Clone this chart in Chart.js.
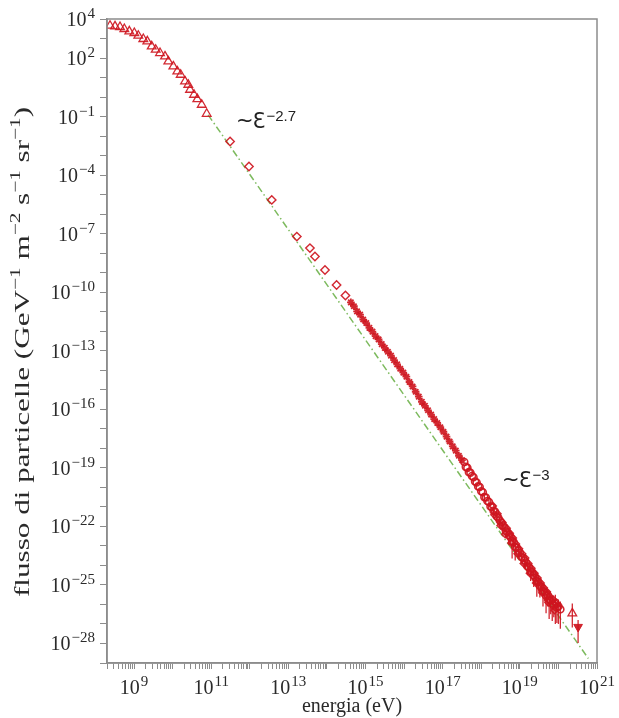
<!DOCTYPE html>
<html>
<head>
<meta charset="utf-8">
<script src="https://cdn.jsdelivr.net/npm/chart.js@4.4.1/dist/chart.umd.min.js"></script>
<style>
html, body { margin: 0; padding: 0; background: #fff; }
</style>
</head>
<body>
<canvas id="grafico" width="619" height="718"></canvas>
<script>
// valori, in esponenti: log10(energia eV), log10(flusso)
const energiaTri = [8.378, 8.508, 8.637, 8.749, 8.878, 9.008, 9.111, 9.241, 9.345, 9.459, 9.562, 9.674,
    9.803, 9.889, 10.019, 10.122, 10.210, 10.322, 10.407, 10.452, 10.555, 10.641, 10.755, 10.884];
const flussoTri = [3.656, 3.621, 3.590, 3.487, 3.364, 3.282, 3.144, 2.974, 2.851, 2.595, 2.426, 2.256,
    2.082, 1.826, 1.569, 1.313, 1.144, 0.800, 0.631, 0.374, 0.118, -0.103, -0.395, -0.857];

const energiaRombi = [11.49, 11.98, 12.57, 13.22, 13.56, 13.69, 13.95, 14.25, 14.48];
const flussoRombi = [-2.28, -3.56, -5.27, -7.15, -7.74, -8.17, -8.86, -9.63, -10.17];

const energiaStelle = [14.62, 14.70, 14.78, 14.86, 14.94, 15.02, 15.10, 15.18, 15.26, 15.34, 15.42, 15.50,
    15.58, 15.66, 15.74, 15.82, 15.90, 15.98, 16.06, 16.14, 16.22, 16.30, 16.38, 16.46, 16.54, 16.62,
    16.70, 16.78, 16.86, 16.94, 17.02, 17.10, 17.18, 17.26, 17.34, 17.42, 17.50];
const flussoStelle = [-10.52, -10.72, -10.98, -11.15, -11.40, -11.58, -11.83, -12.02, -12.25, -12.42, -12.66, -12.85,
    -13.05, -13.25, -13.48, -13.70, -13.92, -14.12, -14.33, -14.60, -14.83, -15.10, -15.35, -15.62, -15.82, -16.05,
    -16.27, -16.50, -16.70, -16.92, -17.15, -17.40, -17.65, -17.90, -18.12, -18.38, -18.60];

const energiaAlta = [17.56, 17.60, 17.64, 17.68, 17.72, 17.76, 17.80, 17.84, 17.88, 17.92, 17.96, 18.00,
    18.04, 18.08, 18.12, 18.16, 18.20, 18.24, 18.28, 18.32, 18.36, 18.40, 18.44, 18.48, 18.52, 18.56,
    18.60, 18.64, 18.68, 18.72, 18.76, 18.80, 18.84, 18.88, 18.92, 18.96, 19.00, 19.04, 19.08, 19.12,
    19.16, 19.20, 19.24, 19.28, 19.32, 19.36, 19.40, 19.44, 19.48, 19.52, 19.56, 19.60, 19.64, 19.68,
    19.72, 19.76, 19.80, 19.84, 19.88, 19.92, 19.96, 20.00, 20.05];
const flussoAlta = [-18.70, -18.95, -19.00, -19.22, -19.25, -19.42, -19.48, -19.70, -19.75, -19.95, -19.98, -20.20,
    -20.25, -20.50, -20.52, -20.70, -20.75, -20.98, -21.02, -21.20, -21.25, -21.48, -21.55, -21.70, -21.80, -21.95,
    -22.05, -22.25, -22.30, -22.45, -22.55, -22.75, -22.80, -23.05, -23.10, -23.25, -23.35, -23.55, -23.62, -23.75,
    -23.85, -24.05, -24.10, -24.30, -24.35, -24.50, -24.62, -24.80, -24.85, -25.05, -25.10, -25.30, -25.35, -25.55,
    -25.50, -25.75, -25.80, -25.95, -26.05, -25.90, -26.15, -26.10, -26.25];
const erroreGiu = [0, 0, 0, 0, 0, 0, 0, 0, 0, 0, 0, 0,
    0, 0.15, 0, 0, 0.15, 0, 0, 0.2, 0, 0.2, 0, 0.25, 0, 0.3,
    0, 0.3, 0, 0.5, 0, 0.9, 0.3, 0.7, 0, 0.4, 0, 0.35, 0, 0.4,
    0, 0.45, 0.3, 0.5, 0, 0.6, 0.4, 0.8, 0.5, 0.6, 0.4, 0.8, 0.5, 0.9,
    0.6, 1.0, 0.7, 0.9, 0.6, 1.1, 0.8, 0.9, 1.0];
const erroreSu = [0, 0, 0, 0, 0, 0, 0, 0, 0, 0, 0, 0,
    0, 0.1, 0, 0, 0.1, 0, 0, 0.1, 0, 0.1, 0, 0.15, 0, 0.15,
    0, 0.15, 0, 0.2, 0, 0.25, 0.15, 0.2, 0, 0.2, 0, 0.2, 0, 0.2,
    0, 0.2, 0.15, 0.2, 0, 0.25, 0.2, 0.3, 0.2, 0.25, 0.2, 0.3, 0.25, 0.3,
    0.25, 0.35, 0.3, 0.35, 0.3, 0.4, 0.3, 0.35, 0.4];

// bordi superiore e inferiore della banda densa
const energiaBanda = [18.30, 18.42, 18.55, 18.66, 18.74, 18.82, 18.90, 18.98, 19.06, 19.14, 19.22, 19.30,
    19.38, 19.46, 19.54, 19.62, 19.70, 19.78, 19.86, 19.94,
    18.34, 18.50, 18.62, 18.78, 18.94, 19.10, 19.26, 19.42, 19.58, 19.74, 19.90];
const flussoBanda = [-20.95, -21.35, -21.80, -22.10, -22.35, -22.60, -22.90, -23.15, -23.40, -23.62, -23.90, -24.15,
    -24.40, -24.65, -24.90, -25.15, -25.35, -25.60, -25.75, -25.95,
    -21.40, -21.95, -22.40, -22.85, -23.40, -23.90, -24.40, -24.90, -25.40, -25.90, -26.30];

// ultimi due punti isolati
const energiaCoda = [20.36];
const flussoCoda = [-26.46];
const codaGiu = [0.72];
const codaSu = [0.51];
const energiaLimite = [20.51];
const flussoLimite = [-27.15];
const limiteGiu = [0.83];
const limiteSu = [0.35];

// retta ~E^-2.7 (estremi)
const energiaRetta = [10.92, 20.775];
const flussoRetta = [-0.91, -28.77];

// etichette degli assi (esponenti)
const etichetteX = [9, 11, 13, 15, 17, 19, 21];
const etichetteY = [4, 2, -1, -4, -7, -10, -13, -16, -19, -22, -25, -28];

// annotazioni
const note = [
    { x: 11.67, y: -1.57, esp: '\u22122.7' },
    { x: 18.565, y: -19.98, esp: '\u22123' }
];

const rosso = 'rgba(206, 22, 32, 0.92)';
const serif = '"Liberation Serif", "DejaVu Serif", serif';

function punti(xs, ys) {
    return xs.map((v, i) => ({ x: v, y: ys[i] }));
}

// tacche: minori in x (2..9), una per decade in y
let tackX = [];
for (let n = 8; n <= 20; n++) {
    for (let k = 1; k <= 9; k++) {
        let v = n + Math.log10(k);
        if (v >= 8.3 && v <= 21) tackX.push(v);
    }
}
tackX.push(21);
let tackY = [];
for (let n = -29; n <= 4; n++) tackY.push(n);

function scriviPotenza(ctx, x, y, esp, allinea) {
    let s = esp < 0 ? '\u2212' + Math.abs(esp) : String(esp);
    ctx.font = '20px ' + serif;
    let w1 = ctx.measureText('10').width;
    ctx.font = '15px ' + serif;
    let w2 = ctx.measureText(s).width;
    let tot = w1 + 1 + w2;
    let x0 = allinea === 'center' ? x - tot / 2 : x - tot;
    ctx.font = '20px ' + serif;
    ctx.fillText('10', x0, y);
    ctx.font = '15px ' + serif;
    ctx.fillText(s, x0 + w1 + 1, y - 8);
}

const barre = {
    id: 'barre',
    afterDatasetsDraw(chart) {
        const { ctx } = chart;
        const sx = chart.scales.x, sy = chart.scales.y;
        ctx.save();
        ctx.strokeStyle = rosso;
        ctx.lineWidth = 1.3;
        chart.data.datasets.forEach(ds => {
            if (!ds.errGiu) return;
            ds.data.forEach((p, i) => {
                let dn = ds.errGiu[i], up = ds.errSu[i];
                if (!dn && !up) return;
                let px = sx.getPixelForValue(p.x);
                ctx.beginPath();
                ctx.moveTo(px, sy.getPixelForValue(p.y + up));
                ctx.lineTo(px, sy.getPixelForValue(p.y - dn));
                ctx.stroke();
            });
        });
        ctx.restore();
    }
};

const testi = {
    id: 'testi',
    afterDraw(chart) {
        const { ctx, chartArea } = chart;
        const sx = chart.scales.x, sy = chart.scales.y;
        ctx.save();

        // cornice
        ctx.strokeStyle = '#8c8c8c';
        ctx.lineWidth = 1.5;
        ctx.strokeRect(chartArea.left, chartArea.top, chartArea.right - chartArea.left, chartArea.bottom - chartArea.top);

        ctx.fillStyle = '#2a2a2a';
        ctx.textBaseline = 'alphabetic';
        ctx.textAlign = 'left';
        etichetteX.forEach(e => scriviPotenza(ctx, sx.getPixelForValue(e), 694, e, 'center'));
        etichetteY.forEach(e => scriviPotenza(ctx, 95, sy.getPixelForValue(e) + 7, e, 'right'));

        // titolo asse x
        ctx.font = '20px ' + serif;
        ctx.textAlign = 'center';
        ctx.fillText('energia (eV)', (chartArea.left + chartArea.right) / 2, 712);

        // titolo asse y con apici, allungato come nell'originale
        let pezzi = [['flusso di particelle (GeV', 0], ['\u22121', 1], [' m', 0], ['\u22122', 1],
            [' s', 0], ['\u22121', 1], [' sr', 0], ['\u22121', 1], [')', 0]];
        let big = '22px ' + serif, small = '15px ' + serif;
        let tot = 0;
        pezzi.forEach(p => { ctx.font = p[1] ? small : big; tot += ctx.measureText(p[0]).width; });
        ctx.translate(29, 352);
        ctx.rotate(-Math.PI / 2);
        ctx.scale(490 / tot, 1);
        ctx.textAlign = 'left';
        let cx = -tot / 2;
        pezzi.forEach(p => {
            ctx.font = p[1] ? small : big;
            ctx.fillText(p[0], cx, p[1] ? -9 : 0);
            cx += ctx.measureText(p[0]).width;
        });
        ctx.restore();

        // annotazioni ~E^-n
        ctx.save();
        ctx.fillStyle = '#222';
        ctx.textAlign = 'left';
        note.forEach(n => {
            let px = sx.getPixelForValue(n.x), py = sy.getPixelForValue(n.y);
            ctx.font = '21px "DejaVu Sans"';
            ctx.fillText('~', px - 1, py - 1);
            let w = ctx.measureText('~').width;
            ctx.font = '21px "DejaVu Sans"';
            ctx.fillText('\u0190', px + w - 2, py);
            let w2 = ctx.measureText('\u0190').width;
            ctx.font = '15px "Liberation Sans", sans-serif';
            ctx.fillText(n.esp, px + w - 2 + w2 + 1, py - 7);
        });
        ctx.restore();
    }
};

let chart = new Chart(document.getElementById('grafico'), {
    type: 'scatter',
    data: {
        datasets: [
            {
                data: punti(energiaTri, flussoTri),
                pointStyle: 'triangle', pointRadius: 5, borderWidth: 1.3,
                borderColor: rosso, backgroundColor: 'rgba(255,255,255,0)'
            },
            {
                data: punti(energiaRombi, flussoRombi),
                pointStyle: 'rectRot', pointRadius: 4.2, borderWidth: 1.4,
                borderColor: rosso, backgroundColor: 'rgba(255,255,255,0)'
            },
            {
                data: punti(energiaStelle, flussoStelle),
                pointStyle: 'star', pointRadius: 3.8, borderWidth: 1.8,
                borderColor: rosso, backgroundColor: rosso
            },
            {
                data: punti(energiaAlta, flussoAlta),
                errGiu: erroreGiu, errSu: erroreSu,
                pointStyle: 'circle', pointRadius: 3.5, borderWidth: 1.6,
                borderColor: rosso, backgroundColor: 'rgba(255,255,255,0)'
            },
            {
                data: punti(energiaBanda, flussoBanda),
                pointStyle: 'rectRot', pointRadius: 3.5, borderWidth: 1.5,
                borderColor: rosso, backgroundColor: 'rgba(255,255,255,0)'
            },
            {
                data: punti(energiaCoda, flussoCoda),
                errGiu: codaGiu, errSu: codaSu,
                pointStyle: 'triangle', pointRadius: 5, borderWidth: 1.3,
                borderColor: rosso, backgroundColor: 'rgba(255,255,255,0)'
            },
            {
                data: punti(energiaLimite, flussoLimite),
                errGiu: limiteGiu, errSu: limiteSu,
                pointStyle: 'triangle', rotation: 180, pointRadius: 5, borderWidth: 1,
                borderColor: rosso, backgroundColor: rosso
            },
            {
                data: punti(energiaRetta, flussoRetta),
                showLine: true, pointRadius: 0, order: 10,
                borderColor: '#7dba5e', borderWidth: 1.5, borderDash: [7, 3, 1.5, 3]
            }
        ]
    },
    options: {
        responsive: false,
        animation: false,
        devicePixelRatio: 1,
        layout: { padding: { top: 19, right: 22, left: 0, bottom: 0 } },
        plugins: { legend: { display: false }, tooltip: { enabled: false } },
        scales: {
            x: {
                type: 'linear', min: 8.3, max: 21,
                afterBuildTicks: s => { s.ticks = tackX.map(v => ({ value: v })); },
                afterFit: s => { s.height = 55; },
                ticks: { callback: () => '', autoSkip: false, maxRotation: 0 },
                grid: { drawOnChartArea: false, drawTicks: true, tickLength: 6, color: '#8c8c8c' },
                border: { display: true, color: '#8c8c8c', width: 1.5 }
            },
            y: {
                type: 'linear', min: -29, max: 4,
                afterBuildTicks: s => { s.ticks = tackY.map(v => ({ value: v })); },
                afterFit: s => { s.width = 107; },
                ticks: { callback: () => '', autoSkip: false },
                grid: { drawOnChartArea: false, drawTicks: true, tickLength: 7, color: '#8c8c8c' },
                border: { display: true, color: '#8c8c8c', width: 1.5 }
            }
        }
    },
    plugins: [barre, testi]
});
</script>
</body>
</html>
